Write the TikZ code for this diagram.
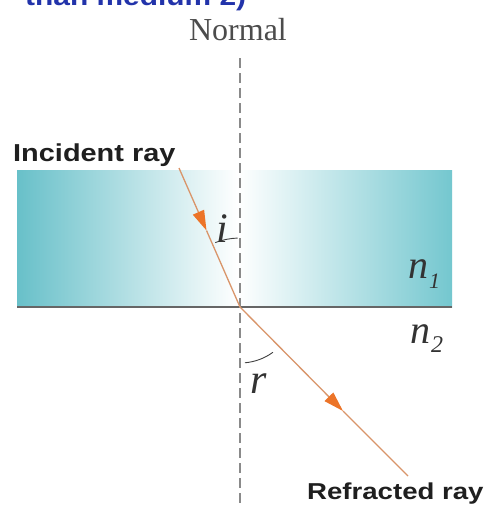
\documentclass[tikz,border=0pt]{standalone}
\usepackage{fontspec}
\setmainfont{Liberation Serif}
\newfontfamily\labelsans{Liberation Sans}
\usetikzlibrary{arrows.meta}
\definecolor{tealA}{HTML}{68C0C9}
\definecolor{tealB}{HTML}{74C7CF}
\definecolor{rayc}{HTML}{D9956A}
\definecolor{arrowc}{HTML}{EC7428}
\definecolor{normalc}{HTML}{8A8A8A}
\definecolor{titleblue}{HTML}{2233AA}
\begin{document}
\begin{tikzpicture}[x=1pt,y=1pt,
  sanslbl/.style={inner sep=0pt, anchor=base west, text=black!88},
  raystyle/.style={draw=rayc, line width=1.3pt},
  raytip/.style={raystyle, -{Triangle[length=20pt,width=12pt,color=arrowc]}},
  mathlbl/.style={inner sep=0pt, anchor=base west, text=black!80, font=\fontsize{40}{40}\selectfont\itshape},
  anglearc/.style={draw=black!75, line width=0.9pt},
  normalline/.style={draw=normalc, line width=1.3pt, dash pattern=on 10pt off 5pt},
  boundary/.style={draw=black!60, line width=1.2pt}
]
\clip (0,0) rectangle (486,-507);
\fill[white] (0,0) rectangle (486,-507);

% medium 1
\path[left color=tealA, right color=white] (17,-170) rectangle (238,-307);
\path[left color=white, right color=tealB] (238,-170) rectangle (452,-307);
\coordinate (L) at (17,-307);
\coordinate (R) at (452,-307);
\draw[boundary] (L) -- (R);

% title fragment
\node[inner sep=0pt, anchor=base west, text=titleblue,
  font=\labelsans\bfseries\fontsize{26}{26}\selectfont] (title) at (25,-5)
  {\scalebox{1.15}[1]{than medium 2)}};

% normal
\node[inner sep=0pt, anchor=base, text=black!70, font=\fontsize{32}{32}\selectfont] (normal) at (238,-40) {Normal};
\coordinate (N1) at (240,-58);
\coordinate (N2) at (240,-507);
\draw[normalline] (N1) -- (N2);

% rays
\coordinate (A) at (179,-168);
\coordinate (O) at (240,-307);
\coordinate (M1) at (206.5,-230.5);
\coordinate (M2) at (343,-411);
\coordinate (B) at (408,-476);
\draw[raytip] (A) -- (M1);
\draw[raystyle] (M1) -- (O);
\draw[raytip] (O) -- (M2);
\draw[raystyle] (M2) -- (B);

% angles
\draw[anglearc] ([shift={(92:69)}]O) arc[start angle=92, end angle=111, radius=69];
\draw[anglearc] ([shift={(275:56)}]O) arc[start angle=275, end angle=306, radius=56];

% labels
\node[sanslbl, font=\labelsans\bfseries\fontsize{24.5}{24.5}\selectfont] (inc) at (13,-161)
  {\scalebox{1.18}[1]{Incident ray}};
\node[sanslbl, font=\labelsans\bfseries\fontsize{23}{23}\selectfont] (refr) at (307,-499)
  {\scalebox{1.2}[1]{Refracted ray}};
\node[mathlbl, font=\fontsize{42}{42}\selectfont\itshape] (ilbl) at (216,-242) {i};
\node[mathlbl, font=\fontsize{42}{42}\selectfont\itshape] (rlbl) at (250,-393) {r};
\node[mathlbl] (n1) at (408,-278) {n\kern1pt\raisebox{-10pt}{\fontsize{22}{22}\selectfont 1}};
\node[mathlbl] (n2) at (410,-343) {n\kern1pt\raisebox{-9pt}{\fontsize{24}{24}\selectfont 2}};
\end{tikzpicture}
\end{document}
